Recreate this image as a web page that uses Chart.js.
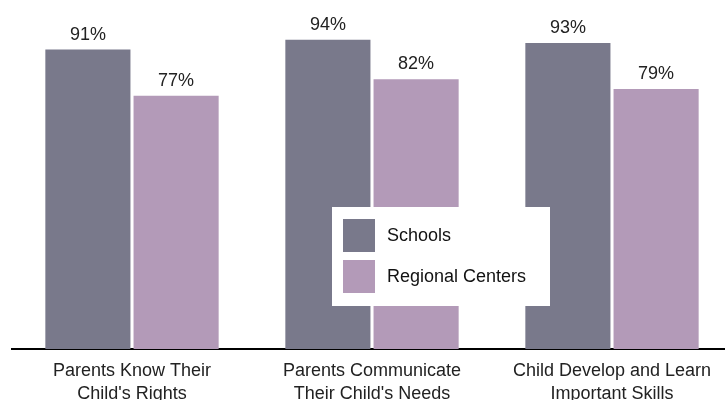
<!DOCTYPE html>
<html>
<head>
<meta charset="utf-8">
<script src="https://cdn.jsdelivr.net/npm/chart.js@4"></script>
<style>
  html, body { margin: 0; padding: 0; background: #fff; overflow: hidden; }
  #wrap { position: relative; width: 732px; height: 400px; }
</style>
</head>
<body>
<div id="wrap"><canvas id="skills"></canvas></div>
<script>
var categories = [["Parents Know Their", "Child's Rights"], ["Parents Communicate", "Their Child's Needs"], ["Child Develop and Learn", "Important Skills"]];
var schools = [91, 94, 93];
var regionalCenters = [77, 82, 79];

var FONT = "'Liberation Sans', Arial, sans-serif";

// percent labels above each bar
var barLabels = {
  id: 'barLabels',
  afterDatasetsDraw: function (chart) {
    var ctx = chart.ctx;
    ctx.save();
    ctx.font = '18px ' + FONT;
    ctx.fillStyle = '#222';
    ctx.textAlign = 'center';
    ctx.textBaseline = 'alphabetic';
    chart.data.datasets.forEach(function (ds, i) {
      chart.getDatasetMeta(i).data.forEach(function (bar, j) {
        ctx.fillText(ds.data[j] + '%', bar.x, bar.y - 10);
      });
    });
    ctx.restore();
  }
};

// white legend box sitting over the middle group
var boxLegend = {
  id: 'boxLegend',
  afterDraw: function (chart) {
    var ctx = chart.ctx;
    var x = 332, y = 207, w = 218, h = 99;
    ctx.save();
    ctx.fillStyle = '#fff';
    ctx.fillRect(x, y, w, h);
    ctx.font = '18px ' + FONT;
    ctx.textBaseline = 'middle';
    chart.data.datasets.forEach(function (ds, i) {
      var top = y + 12 + i * 41;
      ctx.fillStyle = ds.backgroundColor;
      ctx.fillRect(x + 11, top, 32, 33);
      ctx.fillStyle = '#111';
      ctx.fillText(ds.label, x + 55, top + 17);
    });
    ctx.restore();
  }
};

new Chart(document.getElementById('skills'), {
  type: 'bar',
  data: {
    labels: categories,
    datasets: [
      { label: 'Schools', data: schools, backgroundColor: '#79798b',
        barPercentage: 0.965, categoryPercentage: 0.735 },
      { label: 'Regional Centers', data: regionalCenters, backgroundColor: '#b39ab8',
        barPercentage: 0.965, categoryPercentage: 0.735 }
    ]
  },
  options: {
    responsive: true,
    maintainAspectRatio: false,
    animation: false,
    layout: { padding: { left: 12, top: 20, right: 0, bottom: 0 } },
    plugins: { legend: { display: false }, tooltip: { enabled: false } },
    scales: {
      x: {
        grid: { display: false, drawTicks: false },
        border: { display: true, color: '#000', width: 2 },
        ticks: { color: '#222', padding: 10, maxRotation: 0,
          font: { family: FONT, size: 18, lineHeight: 1.3 } },
        afterFit: function (scale) { scale.height = 51; }
      },
      y: {
        display: false,
        min: 0,
        max: 100
      }
    }
  },
  plugins: [barLabels, boxLegend]
});
</script>
</body>
</html>
